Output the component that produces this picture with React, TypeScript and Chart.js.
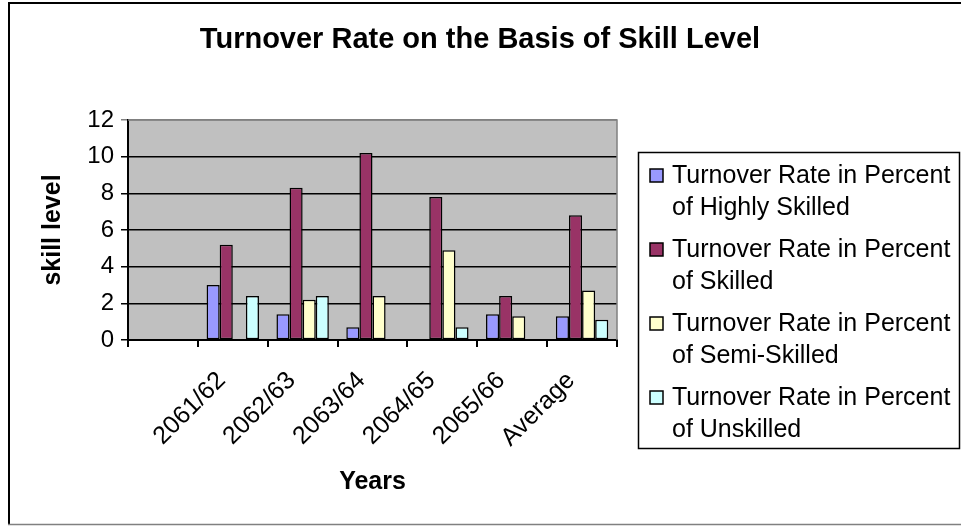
import React, { useEffect, useRef } from 'react';
import { Chart, registerables } from 'chart.js';

Chart.register(...registerables);

const chartTitle = 'Turnover Rate on the Basis of Skill Level';
const xTitle = 'Years';
const yTitle = 'skill level';

const categories = ['', '2061/62', '2062/63', '2063/64', '2064/65', '2065/66', 'Average'];
const highlySkilled = [null, 3.0, 1.4, 0.7, 0, 1.4, 1.3];
const skilled = [null, 5.2, 8.3, 10.2, 7.8, 2.4, 6.8];
const semiSkilled = [null, 0, 2.2, 2.4, 4.9, 1.3, 2.7];
const unskilled = [null, 2.4, 2.4, 0, 0.7, 0, 1.1];

const seriesNames = [
  'Turnover Rate in Percent of Highly Skilled',
  'Turnover Rate in Percent of Skilled',
  'Turnover Rate in Percent of Semi-Skilled',
  'Turnover Rate in Percent of Unskilled',
];
const legendLines = [
  ['Turnover Rate in Percent', 'of Highly Skilled'],
  ['Turnover Rate in Percent', 'of Skilled'],
  ['Turnover Rate in Percent', 'of Semi-Skilled'],
  ['Turnover Rate in Percent', 'of Unskilled'],
];
const seriesColors = ['#9999FF', '#993366', '#FFFFCC', '#CCFFFF'];
const yMin = 0;
const yMax = 12;
const yStep = 2;

const FONT = "'Liberation Sans', Arial, sans-serif";

const decorPlugin = {
  id: 'decor',
  beforeDraw(chart: any) {
    const { ctx, chartArea } = chart;
    ctx.save();
    ctx.fillStyle = '#FFFFFF';
    ctx.fillRect(0, 0, chart.width, chart.height);
    ctx.fillStyle = '#C0C0C0';
    ctx.fillRect(chartArea.left, chartArea.top, chartArea.right - chartArea.left, chartArea.bottom - chartArea.top);
    ctx.restore();
  },
  afterDraw(chart: any) {
    const { ctx, chartArea } = chart;
    ctx.save();
    // plot border (top/right gray)
    ctx.strokeStyle = '#808080';
    ctx.lineWidth = 1.5;
    ctx.beginPath();
    ctx.moveTo(chartArea.left, chartArea.top);
    ctx.lineTo(chartArea.right, chartArea.top);
    ctx.lineTo(chartArea.right, chartArea.bottom);
    ctx.stroke();

    // outer border
    ctx.strokeStyle = '#000000';
    ctx.lineWidth = 2;
    ctx.beginPath();
    ctx.moveTo(9, 525);
    ctx.lineTo(9, 3);
    ctx.lineTo(961, 3);
    ctx.stroke();
    ctx.strokeStyle = '#808080';
    ctx.lineWidth = 1.5;
    ctx.beginPath();
    ctx.moveTo(8, 524.5);
    ctx.lineTo(961, 524.5);
    ctx.stroke();

    // title
    ctx.fillStyle = '#000000';
    ctx.textAlign = 'center';
    ctx.textBaseline = 'middle';
    ctx.font = `bold 29px ${FONT}`;
    ctx.fillText(chartTitle, 480, 40);

    // axis titles
    ctx.font = `bold 25px ${FONT}`;
    ctx.fillText(xTitle, (chartArea.left + chartArea.right) / 2, 482);
    ctx.save();
    ctx.translate(53, (chartArea.top + chartArea.bottom) / 2);
    ctx.rotate(-Math.PI / 2);
    ctx.fillText(yTitle, 0, 0);
    ctx.restore();

    // legend
    ctx.fillStyle = '#FFFFFF';
    ctx.fillRect(638, 152, 322, 297);
    ctx.strokeStyle = '#000000';
    ctx.lineWidth = 1.5;
    ctx.strokeRect(638.5, 152.5, 321, 296);
    ctx.font = `25px ${FONT}`;
    ctx.textAlign = 'left';
    ctx.textBaseline = 'middle';
    chart.data.datasets.forEach((ds: any, i: number) => {
      const cy = 176 + i * 74;
      ctx.fillStyle = ds.backgroundColor;
      ctx.fillRect(650, cy - 7, 13, 13);
      ctx.strokeStyle = '#000000';
      ctx.lineWidth = 1.5;
      ctx.strokeRect(650, cy - 7, 13, 13);
      ctx.fillStyle = '#000000';
      const lines = legendLines[i];
      lines.forEach((t, j) => ctx.fillText(t, 672, cy + j * 32));
    });
    ctx.restore();
  },
};

export default function App() {
  const ref = useRef<HTMLCanvasElement | null>(null);
  useEffect(() => {
    if (!ref.current) return;
    const seriesData = [highlySkilled, skilled, semiSkilled, unskilled];
    const chart = new Chart(ref.current, {
      type: 'bar',
      data: {
        labels: categories,
        datasets: seriesData.map((d, i) => ({
          label: seriesNames[i],
          data: d,
          backgroundColor: seriesColors[i],
          borderColor: '#000000',
          borderWidth: 1.5,
          borderSkipped: false,
          categoryPercentage: 0.75,
          barPercentage: 1.0,
        })),
      },
      options: {
        responsive: false,
        animation: false,
        devicePixelRatio: 1,
        layout: { padding: { top: 120, left: 0, right: 344, bottom: 0 } },
        plugins: {
          legend: { display: false },
          title: { display: false },
          tooltip: { enabled: false },
        },
        scales: {
          x: {
            grid: {
              display: true,
              drawOnChartArea: false,
              drawTicks: true,
              tickLength: 7,
              offset: true,
              color: '#000000',
              lineWidth: 2,
            },
            border: { display: true, color: '#000000', width: 2 },
            ticks: {
              autoSkip: false,
              minRotation: 45,
              maxRotation: 45,
              padding: 19,
              labelOffset: -11,
              color: '#000000',
              font: { family: FONT, size: 25 },
            },
            afterFit: (s: any) => {
              s.height = 186;
              s.paddingLeft = 0;
              s.paddingRight = 0;
            },
          },
          y: {
            min: yMin,
            max: yMax,
            grid: {
              color: (c: any) => (c.tick && c.tick.value === yMax ? '#808080' : '#000000'),
              lineWidth: 1.5,
              drawTicks: true,
              tickLength: 7,
            },
            border: { display: true, color: '#000000', width: 2 },
            ticks: {
              stepSize: yStep,
              padding: 7,
              color: '#000000',
              font: { family: FONT, size: 24 },
            },
            afterFit: (s: any) => {
              s.width = 128;
              s.paddingTop = 0;
              s.paddingBottom = 0;
            },
          },
        },
      },
      plugins: [decorPlugin],
    });
    return () => chart.destroy();
  }, []);
  return (
    <div style={{ position: 'absolute', left: 0, top: 0, width: 961, height: 526 }}>
      <canvas ref={ref} width={961} height={526} style={{ width: 961, height: 526, display: 'block' }} />
    </div>
  );
}
